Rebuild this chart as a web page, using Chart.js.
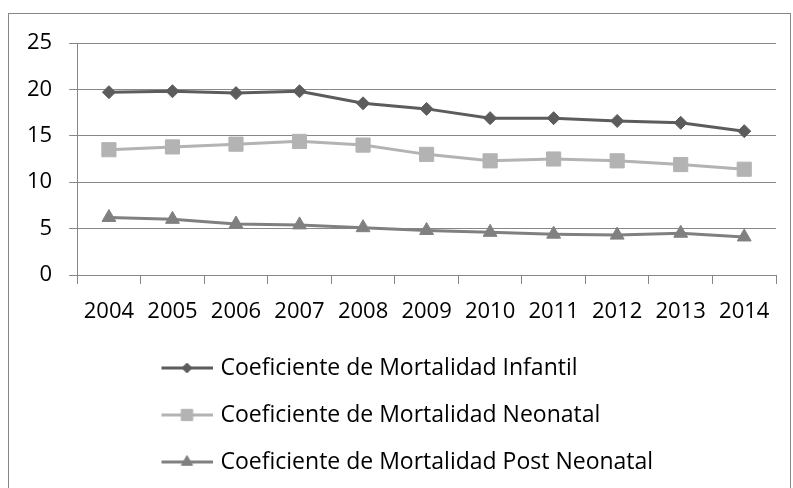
<!DOCTYPE html>
<html>
<head>
<meta charset="utf-8">
<script src="https://cdn.jsdelivr.net/npm/chart.js@4.4.1/dist/chart.umd.min.js"></script>
<style>
  html, body { margin: 0; padding: 0; background: #fff; overflow: hidden; }
  #frame { position: absolute; left: 8px; top: 13px; width: 781px; height: 480px; border: 1px solid #868686; }
  canvas { display: block; }
</style>
</head>
<body>
<div id="frame"><canvas id="chart" width="781" height="480"></canvas></div>
<script>
// Values
const years = ["2004", "2005", "2006", "2007", "2008", "2009", "2010", "2011", "2012", "2013", "2014"];
const infantil = [19.7, 19.8, 19.6, 19.8, 18.5, 17.9, 16.9, 16.9, 16.6, 16.4, 15.5];
const neonatal = [13.5, 13.8, 14.1, 14.4, 14.0, 13.0, 12.3, 12.5, 12.3, 11.9, 11.4];
const postNeonatal = [6.2, 6.0, 5.5, 5.4, 5.1, 4.8, 4.6, 4.4, 4.3, 4.5, 4.1];
const seriesNames = [
    "Coeficiente de Mortalidad Infantil",
    "Coeficiente de Mortalidad Neonatal",
    "Coeficiente de Mortalidad Post Neonatal"
];

const gridColor = "#878787";

Chart.defaults.font.family = "'Open Sans'";
Chart.defaults.font.size = 22;
Chart.defaults.color = "#000";

// Excel-style legend sample: short line with the marker in its middle
function legendSample(color, style, radius) {
    const c = document.createElement("canvas");
    c.width = 54;
    c.height = 18;
    const g = c.getContext("2d");
    g.strokeStyle = color;
    g.lineWidth = 3;
    g.beginPath();
    g.moveTo(3, 9);
    g.lineTo(54, 9);
    g.stroke();
    g.fillStyle = color;
    g.lineWidth = 1;
    Chart.helpers.drawPoint(g, { pointStyle: style, radius: radius, borderWidth: 1 }, 28.5, 9);
    return c;
}

// legend rows start at a fixed indent, like the original
const legendIndent = {
    id: "legendIndent",
    afterLayout(chart) {
        const lg = chart.legend;
        if (lg) lg.left = 153 - lg.options.labels.padding;
    }
};

function series(label, data, color, style, radius) {
    return {
        label: label,
        data: data,
        borderColor: color,
        backgroundColor: color,
        borderWidth: 3,
        pointStyle: style,
        pointRadius: radius,
        pointHoverRadius: radius,
        pointBorderWidth: 1,
        tension: 0,
        fill: false
    };
}

const datasets = [
    series(seriesNames[0], infantil, "#5c5c5c", "rectRot", 6.5),
    series(seriesNames[1], neonatal, "#b3b3b3", "rect", 10),
    series(seriesNames[2], postNeonatal, "#808080", "triangle", 8)
];
const samples = [
    legendSample("#5c5c5c", "rectRot", 5),
    legendSample("#b3b3b3", "rect", 8),
    legendSample("#808080", "triangle", 6.5)
];

new Chart(document.getElementById("chart"), {
    type: "line",
    data: { labels: years, datasets: datasets },
    options: {
        responsive: false,
        animation: false,
        devicePixelRatio: 1,
        layout: { padding: { left: 1, right: 14, top: 29, bottom: 10.5 } },
        plugins: {
            legend: {
                position: "bottom",
                align: "start",
                labels: {
                    usePointStyle: true,
                    pointStyleWidth: 47,
                    padding: 24,
                    color: "#000",
                    font: { size: 23 },
                    generateLabels: (chart) => chart.data.datasets.map((ds, i) => ({
                        text: ds.label,
                        pointStyle: samples[i],
                        datasetIndex: i,
                        hidden: false,
                        lineWidth: 0,
                        fillStyle: ds.borderColor,
                        strokeStyle: ds.borderColor,
                        fontColor: "#000"
                    }))
                }
            },
            tooltip: { enabled: false }
        },
        scales: {
            x: {
                offset: true,
                grid: { offset: true, drawOnChartArea: false, drawTicks: true, tickLength: 9, color: gridColor },
                border: { color: gridColor },
                ticks: { padding: 15, maxRotation: 0, autoSkip: false },
                afterFit: (axis) => { axis.height -= 7.9; }
            },
            y: {
                min: 0,
                max: 25,
                grid: { color: gridColor, tickLength: 8 },
                border: { color: gridColor },
                ticks: { stepSize: 5, padding: 17 },
                afterFit: (axis) => { axis.paddingTop = 13; }
            }
        }
    },
    plugins: [legendIndent]
});
</script>
</body>
</html>
